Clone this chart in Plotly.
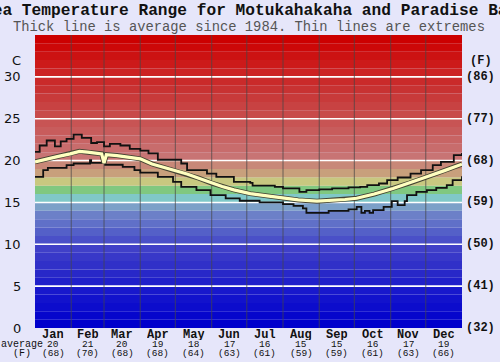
import plotly.graph_objects as go

# ---------------- data ----------------
months = ["Jan", "Feb", "Mar", "Apr", "May", "Jun", "Jul", "Aug", "Sep", "Oct", "Nov", "Dec"]
month_days = [31, 28, 31, 30, 31, 30, 31, 31, 30, 31, 30, 31]
month_avg_c = [20, 21, 20, 19, 18, 17, 16, 15, 15, 16, 17, 19]
month_avg_f = [68, 70, 68, 68, 64, 63, 61, 59, 59, 61, 63, 66]

c_ticks = [0, 5, 10, 15, 20, 25, 30]
f_ticks = ["(32)", "(41)", "(50)", "(59)", "(68)", "(77)", "(86)"]

# average (thick line): day of year, deg C
avg_day = [0, 10, 20, 30, 38, 45, 52, 57, 59, 61, 70, 80, 90, 100, 110, 120, 130, 140,
           151, 160, 170, 184, 200, 212, 225, 241, 255, 265, 275, 290, 306, 320, 335, 350, 365]
avg_temp = [19.85, 20.2, 20.5, 20.8, 21.1, 21.0, 20.9, 20.8, 19.7, 20.7, 20.6, 20.4, 20.2,
            19.6, 19.2, 18.85, 18.4, 17.9, 17.3, 16.9, 16.5, 16.05, 15.75, 15.5, 15.3, 15.15,
            15.25, 15.35, 15.5, 16.0, 16.67, 17.3, 18.06, 18.8, 19.57]

# maximum extreme (stepped)
max_day = [0, 4, 10, 17, 22, 27, 33, 40, 48, 53, 59, 64, 73, 81, 90, 97, 105, 125, 130,
           147, 155, 170, 184, 186, 205, 212, 226, 232, 243, 254, 268, 278, 284, 294, 301,
           310, 321, 330, 340, 347, 358, 365]
max_temp = [21.05, 21.8, 22.4, 21.7, 22.3, 22.6, 23.1, 22.7, 22.1, 22.2, 21.7, 22.0, 21.8,
            21.4, 21.2, 20.85, 20.1, 19.65, 18.85, 18.45, 18.05, 17.45, 17.34, 17.0, 16.86,
            16.67, 16.27, 16.47, 16.55, 16.67, 16.8, 16.86, 17.06, 17.26, 17.66, 17.98,
            18.45, 18.85, 19.45, 19.85, 20.64, 20.9]

# minimum extreme (stepped)
min_day = [0, 7, 11, 27, 33, 47, 48, 60, 75, 85, 90, 105, 118, 125, 138, 150, 163, 175,
           192, 212, 221, 229, 232, 251, 268, 275, 279, 282, 286, 289, 298, 305, 310, 316,
           318, 326, 335, 343, 352, 357, 365]
min_temp = [18.05, 18.85, 19.13, 19.45, 19.65, 20.05, 19.73, 19.5, 19.25, 18.85, 18.57,
            18.05, 17.45, 16.86, 16.47, 15.87, 15.48, 15.2, 15.0, 14.8, 14.6, 14.3, 13.76,
            14.0, 14.16, 14.47, 13.76, 14.0, 13.76, 14.08, 14.47, 15.15, 14.68, 15.15, 15.87,
            16.27, 16.47, 16.74, 17.06, 17.66, 18.14]

# background colour of each 1 degree band (0-1, 1-2, ... 34-35)
band_colors = [
    "#0000cc", "#0606cc", "#0c0ccc", "#1212cc", "#1818cc",
    "#2020ca", "#2828c8", "#3030c8", "#3838c8", "#4040c8",
    "#4a50c8", "#5460c8", "#6070c8", "#6c80c8", "#7ca0c8",
    "#80c8c8", "#80c880", "#c8c880", "#c8a07c", "#c88878",
    "#c87474", "#c86c6c", "#c86464", "#c85c5c", "#c85454",
    "#c84a4a", "#c84242", "#c83a3a", "#c83232", "#ca2a2a",
    "#cc2222", "#cc1a1a", "#cc1212", "#cc0808", "#cc0000",
]

YEAR = 365
YMAX = 35

# ---------------- figure ----------------
fig = go.Figure()

shapes = []
for i, col in enumerate(band_colors):
    shapes.append(dict(type="rect", xref="x", yref="y", x0=0, x1=YEAR, y0=i, y1=i + 1,
                       fillcolor=col, line=dict(width=0), layer="below"))
fig.update_layout(shapes=shapes)

# horizontal white gridlines
for c in c_ticks[1:]:
    fig.add_trace(go.Scatter(x=[0, YEAR], y=[c, c], mode="lines",
                             line=dict(color="white", width=1.6), hoverinfo="skip",
                             showlegend=False))

# vertical month separators
starts = []
acc = 0
for d in month_days:
    starts.append(acc)
    acc += d
for s in starts[1:]:
    fig.add_trace(go.Scatter(x=[s, s], y=[0, YMAX], mode="lines",
                             line=dict(color="rgba(70,70,70,0.6)", width=1.2),
                             hoverinfo="skip", showlegend=False))

# extremes
fig.add_trace(go.Scatter(x=max_day, y=max_temp, mode="lines", line_shape="hv",
                         line=dict(color="#111111", width=1.8), showlegend=False))
fig.add_trace(go.Scatter(x=min_day, y=min_temp, mode="lines", line_shape="hv",
                         line=dict(color="#111111", width=1.8), showlegend=False))
# average
fig.add_trace(go.Scatter(x=avg_day, y=avg_temp, mode="lines",
                         line=dict(color="#444433", width=5), showlegend=False))
fig.add_trace(go.Scatter(x=avg_day, y=avg_temp, mode="lines",
                         line=dict(color="#ffffc0", width=3.2), showlegend=False))

ann = []
mono = "Liberation Mono, Courier New, monospace"
sans = "DejaVu Sans, Verdana, sans-serif"

# title / subtitle
ann.append(dict(text="<b>Sea Temperature Range for Motukahakaha and Paradise Bay</b>",
                xref="paper", yref="paper", x=(250 - 35) / 427, y=(328 - 11) / 293,
                xanchor="center", yanchor="middle", showarrow=False,
                font=dict(family=mono, size=16.2, color="#111111")))
ann.append(dict(text="Thick line is average since 1984. Thin lines are extremes",
                xref="paper", yref="paper", x=(249 - 35) / 427, y=(328 - 27) / 293,
                xanchor="center", yanchor="middle", showarrow=False,
                font=dict(family=mono, size=13.8, color="#555555")))

# left / right axis labels
for c, f in zip(c_ticks, f_ticks):
    ann.append(dict(text=str(c), xref="paper", yref="y", x=(23 - 35) / 427, y=c,
                    xanchor="right", yanchor="middle", showarrow=False,
                    font=dict(family=sans, size=13, color="#111111")))
    ann.append(dict(text="<b>" + f + "</b>", xref="paper", yref="y", x=(480 - 35) / 427, y=c,
                    xanchor="center", yanchor="middle", showarrow=False,
                    font=dict(family=mono, size=12, color="#111111")))
ann.append(dict(text="C", xref="paper", yref="y", x=(23 - 35) / 427, y=31.9,
                xanchor="right", yanchor="middle", showarrow=False,
                font=dict(family=sans, size=13, color="#111111")))
ann.append(dict(text="<b>(F)</b>", xref="paper", yref="y", x=(481 - 35) / 427, y=31.9,
                xanchor="center", yanchor="middle", showarrow=False,
                font=dict(family=mono, size=12, color="#111111")))

# bottom month labels (tight stacked rows, explicit box heights)
for s, d, m, c, f in zip(starts, month_days, months, month_avg_c, month_avg_f):
    mid = s + d / 2
    ann.append(dict(text="<b>" + m + "</b>", xref="x", yref="y", x=mid, y=0, yshift=-6.5,
                    xanchor="center", yanchor="middle", showarrow=False, borderpad=0,
                    height=11, font=dict(family=mono, size=12, color="#111111")))
    ann.append(dict(text=str(c), xref="x", yref="y", x=mid, y=0, yshift=-16.5,
                    xanchor="center", yanchor="middle", showarrow=False, borderpad=0,
                    height=9, font=dict(family=mono, size=9.5, color="#111111")))
    ann.append(dict(text="(" + str(f) + ")", xref="x", yref="y", x=mid, y=0, yshift=-25.5,
                    xanchor="center", yanchor="middle", showarrow=False, borderpad=0,
                    height=9, font=dict(family=mono, size=9.5, color="#111111")))
ann.append(dict(text="average", xref="paper", yref="y", x=(22 - 35) / 427, y=0, yshift=-16.5,
                xanchor="center", yanchor="middle", showarrow=False, borderpad=0,
                height=9, font=dict(family=mono, size=10, color="#111111")))
ann.append(dict(text="(F)", xref="paper", yref="y", x=(22 - 35) / 427, y=0, yshift=-25.5,
                xanchor="center", yanchor="middle", showarrow=False, borderpad=0,
                height=9, font=dict(family=mono, size=10, color="#111111")))

fig.update_layout(
    width=500, height=362,
    margin=dict(l=35, r=38, t=35, b=34),
    paper_bgcolor="#e6e6fa",
    plot_bgcolor="#e6e6fa",
    annotations=ann,
    showlegend=False,
    xaxis=dict(range=[0, YEAR], showgrid=False, zeroline=False, showticklabels=False,
               ticks="", fixedrange=True),
    yaxis=dict(range=[0, YMAX], showgrid=False, zeroline=False, showticklabels=False,
               ticks="", fixedrange=True),
)

fig.write_html(
    "out.html",
    config={"displayModeBar": False},
    post_script="document.body.style.margin='0';document.body.style.padding='0';"
                "document.body.style.overflow='hidden';",
)
